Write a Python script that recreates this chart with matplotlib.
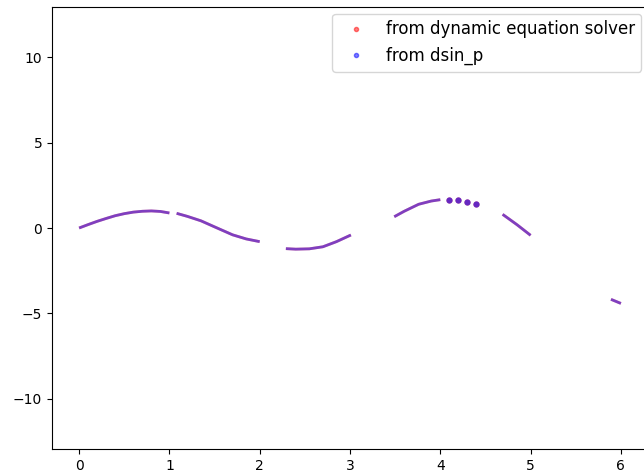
import matplotlib
matplotlib.use('Agg')
import matplotlib.pyplot as plt
from matplotlib.lines import Line2D

# segments (x, y)
seg_x = [
    [0.0, 0.1, 0.2, 0.3, 0.4, 0.5, 0.6, 0.7, 0.8, 0.9, 1.0],
    [1.08, 1.2, 1.35, 1.52, 1.7, 1.85, 2.0],
    [2.29, 2.4, 2.55, 2.7, 2.85, 3.01],
    [3.49, 3.6, 3.76, 3.9, 4.0],
    [4.69, 4.85, 5.0],
    [5.89, 6.0],
]
seg_y = [
    [0.0, 0.2, 0.39, 0.56, 0.72, 0.84, 0.93, 0.98, 1.0, 0.97, 0.88],
    [0.86, 0.68, 0.42, 0.02, -0.40, -0.64, -0.80],
    [-1.21, -1.24, -1.22, -1.10, -0.80, -0.41],
    [0.66, 0.98, 1.39, 1.58, 1.66],
    [0.80, 0.19, -0.43],
    [-4.18, -4.42],
]
# isolated samples
dot_x = [4.1, 4.2, 4.3, 4.4]
dot_y = [1.66, 1.66, 1.52, 1.43]

fig = plt.figure(figsize=(6.44, 4.76), dpi=100)
ax = fig.add_axes([52 / 644, 27 / 476, 596 / 644, 442 / 476])

for xs, ys in zip(seg_x, seg_y):
    ax.plot(xs, ys, color='red', alpha=0.5, lw=2.0, solid_capstyle='butt')
    ax.plot(xs, ys, color='blue', alpha=0.5, lw=2.0, solid_capstyle='butt')

ax.plot(dot_x, dot_y, 'o', color='red', alpha=0.6, ms=4.5, mew=0)
ax.plot(dot_x, dot_y, 'o', color='blue', alpha=0.6, ms=4.5, mew=0)

ax.set_xlim(-0.3, 6.3)
ax.set_ylim(-12.95, 12.95)
ax.set_xticks(range(7))
ax.set_yticks([-10, -5, 0, 5, 10])

handles = [
    Line2D([], [], ls='none', marker='.', color='red', alpha=0.5),
    Line2D([], [], ls='none', marker='.', color='blue', alpha=0.5),
]
ax.legend(handles, ['from dynamic equation solver', 'from dsin_p'],
          loc='upper right', fontsize=12, borderaxespad=0.4)

fig.savefig('out.png', dpi=100)
